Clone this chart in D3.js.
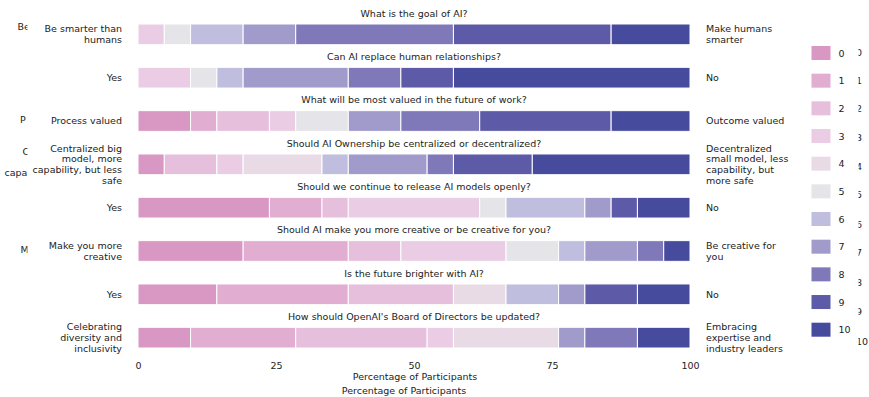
<!DOCTYPE html>
<html>
<head>
<meta charset="utf-8">
<script src="https://cdn.jsdelivr.net/npm/d3@7"></script>
<style>
  body { margin: 0; background: #fff; }
  text { font-family: "DejaVu Sans", sans-serif; fill: #222; }
</style>
</head>
<body>
<div id="container"></div>
<script>
// data (counts of 21 participants per score)
let questions = [
  "What is the goal of AI?",
  "Can AI replace human relationships?",
  "What will be most valued in the future of work?",
  "Should AI Ownership be centralized or decentralized?",
  "Should we continue to release AI models openly?",
  "Should AI make you more creative or be creative for you?",
  "Is the future brighter with AI?",
  "How should OpenAI's Board of Directors be updated?"
];
let leftLabels = [
  ["Be smarter than", "humans"],
  ["Yes"],
  ["Process valued"],
  ["Centralized big", "model, more", "capability, but less", "safe"],
  ["Yes"],
  ["Make you more", "creative"],
  ["Yes"],
  ["Celebrating", "diversity and", "inclusivity"]
];
let rightLabels = [
  ["Make humans", "smarter"],
  ["No"],
  ["Outcome valued"],
  ["Decentralized", "small model, less", "capability, but", "more safe"],
  ["No"],
  ["Be creative for", "you"],
  ["No"],
  ["Embracing", "expertise and", "industry leaders"]
];
let scores = [0, 1, 2, 3, 4, 5, 6, 7, 8, 9, 10];
let participants = 21;
//            0  1  2  3  4  5  6  7  8  9  10
let counts = [
  [0, 0, 0, 1, 0, 1, 2, 2, 6, 6, 3],
  [0, 0, 0, 2, 0, 1, 1, 4, 2, 2, 9],
  [2, 1, 2, 1, 0, 2, 0, 2, 3, 5, 3],
  [1, 0, 2, 1, 3, 0, 1, 3, 1, 3, 6],
  [5, 2, 1, 5, 0, 1, 3, 1, 0, 1, 2],
  [4, 4, 2, 4, 0, 2, 1, 2, 1, 0, 1],
  [3, 5, 4, 0, 2, 0, 2, 1, 0, 2, 2],
  [2, 4, 5, 1, 4, 0, 0, 1, 2, 0, 2]
];
let xTicks = [0, 25, 50, 75, 100];
let colors = ["#d998c4", "#e1aed1", "#e6bfdd", "#eacde4", "#e9dbe6", "#e4e4e9",
              "#bfbedf", "#a19bcc", "#7f79b9", "#5d5aa7", "#464b9d"];

// ghost text fragments from an overlapping copy of the figure
let ghostLeft = [
  {t: "Be", x: 17.5, y: 27},
  {t: "P", x: 20, y: 120},
  {t: "C", x: 22.5, y: 151.5},
  {t: "capab", x: 4.5, y: 172.5},
  {t: "M", x: 20.5, y: 250}
];
let ghostLegendY = [52.5, 80.5, 109, 138, 166.5, 195, 225, 253, 282.5, 311.5, 341.5];

let w = 869;
let h = 397;
let fs = 9.5;
let lineH = 10.8;

let viz = d3.select("#container")
  .append("svg")
    .attr("width", w)
    .attr("height", h);

let table = counts.map(function(c, i){
  let row = {q: questions[i]};
  scores.forEach(function(s){ row[s] = c[s] / participants * 100; });
  return row;
});

let xScale = d3.scaleLinear().domain([0, 100]).range([138, 690]);
let yScale = d3.scaleBand().domain(questions).range([24, 348]).paddingInner(0.522);

let stack = d3.stack().keys(scores);
let layers = stack(table);

viz.append("g").selectAll("g")
  .data(layers).enter()
  .append("g")
    .attr("fill", function(d){ return colors[d.key]; })
  .selectAll("rect")
  .data(function(d){ return d; }).enter()
  .append("rect")
    .attr("x", function(d){ return xScale(d[0]); })
    .attr("y", function(d){ return yScale(d.data.q); })
    .attr("width", function(d){ return xScale(d[1]) - xScale(d[0]); })
    .attr("height", yScale.bandwidth())
    .attr("stroke", "white")
    .attr("stroke-width", 1);

// question titles
viz.append("g").selectAll("text")
  .data(questions).enter()
  .append("text")
    .attr("x", xScale(50))
    .attr("y", function(d){ return yScale(d) - 7.3; })
    .attr("text-anchor", "middle")
    .attr("font-size", fs)
    .text(function(d){ return d; });

function multiLine(g, labels, x, anchor){
  g.selectAll("text")
    .data(labels).enter()
    .append("text")
      .attr("text-anchor", anchor)
      .attr("font-size", fs)
      .each(function(lines, i){
        let cy = yScale(questions[i]) + yScale.bandwidth() / 2;
        let top = cy - (lines.length - 1) * lineH / 2 + 3.4;
        d3.select(this).selectAll("tspan")
          .data(lines).enter()
          .append("tspan")
            .attr("x", x)
            .attr("y", function(l, j){ return top + j * lineH; })
            .text(function(l){ return l; });
      });
}
multiLine(viz.append("g"), leftLabels, 122, "end");
multiLine(viz.append("g"), rightLabels, 706, "start");

// x axis
let xAxis = d3.axisBottom(xScale).tickValues(xTicks).tickSize(0).tickPadding(14);
let xAxisGroup = viz.append("g").attr("transform", "translate(0,348)");
xAxisGroup.call(xAxis);
xAxisGroup.select(".domain").remove();
xAxisGroup.selectAll("text").attr("font-size", fs).attr("font-family", "DejaVu Sans").attr("fill", "#222");

viz.append("text")
  .attr("x", 415).attr("y", 379.5)
  .attr("text-anchor", "middle").attr("font-size", fs)
  .text("Percentage of Participants");
viz.append("text")
  .attr("x", 404).attr("y", 393.5)
  .attr("text-anchor", "middle").attr("font-size", fs)
  .text("Percentage of Participants");

// legend
let legend = viz.append("g").selectAll("g")
  .data(scores).enter()
  .append("g")
    .attr("transform", function(d, i){ return "translate(811.5," + (46 + i * 27.67) + ")"; });
legend.append("rect")
  .attr("width", 19).attr("height", 14)
  .attr("fill", function(d){ return colors[d]; });
legend.append("text")
  .attr("x", 27).attr("y", 10.5)
  .attr("font-size", fs)
  .text(function(d){ return d; });

// clipped ghost texts
let defs = viz.append("defs");
defs.append("clipPath").attr("id", "clipL")
  .append("rect").attr("x", 0).attr("y", 0).attr("width", 27.5).attr("height", h);
defs.append("clipPath").attr("id", "clipR")
  .append("rect").attr("x", 858.5).attr("y", 0).attr("width", 20).attr("height", h);

viz.append("g").attr("clip-path", "url(#clipL)")
  .selectAll("text").data(ghostLeft).enter()
  .append("text")
    .attr("x", function(d){ return d.x; })
    .attr("y", function(d){ return d.y + 3.4; })
    .attr("font-size", fs)
    .text(function(d){ return d.t; });

viz.append("g").attr("clip-path", "url(#clipR)")
  .selectAll("text").data(scores).enter()
  .append("text")
    .attr("x", 856)
    .attr("y", function(d, i){ return ghostLegendY[i] + 3.4; })
    .attr("font-size", fs)
    .text(function(d){ return d; });
</script>
</body>
</html>
